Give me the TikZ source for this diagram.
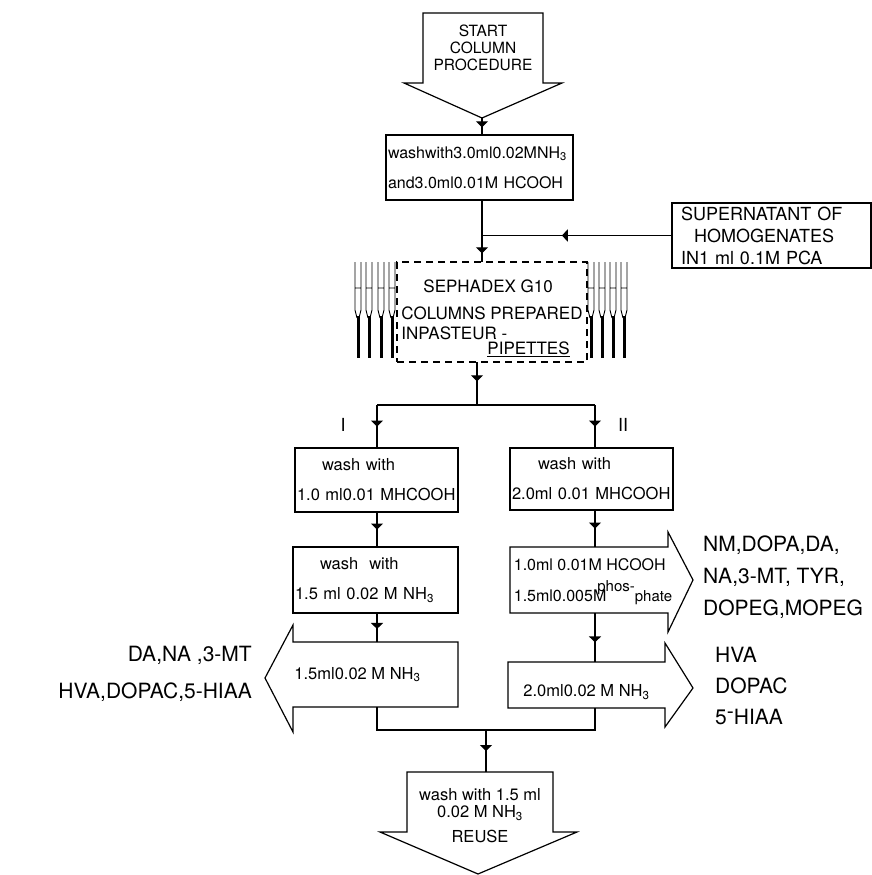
\documentclass[tikz,border=0pt]{standalone}
\usepackage{fontspec}
\setmainfont{TeX Gyre Heros}
\usetikzlibrary{arrows.meta,decorations.markings}

\newcommand\boxfont{\fontsize{16}{30}\selectfont}
\newcommand\colfont{\fontsize{16.5}{30}\selectfont}

\tikzset{
  flowline/.style={line width=1.2pt},
  tickat/.style={flowline,
    decoration={markings, mark=at position #1 with {\arrow{Triangle[width=12pt,length=6pt]}}},
    postaction={decorate}},
  stepbox/.style={draw, line width=1.2pt, outer sep=0pt, inner sep=2pt},
  bodybox/.style={outer sep=0pt, inner sep=2pt},
  dashbox/.style={draw, line width=1.2pt, dash pattern=on 7pt off 5pt, outer sep=0pt},
  outline/.style={line width=1.2pt, line join=miter},
  outtext/.style={font=\fontsize{21}{#1}\selectfont, inner sep=0pt},
}

\begin{document}
\begin{tikzpicture}[x=1pt,y=-1pt]
  \useasboundingbox (0,0) rectangle (872,875);

  % start arrow
  \node[bodybox, minimum width=120, minimum height=70, align=center,
        font=\fontsize{15.5}{17}\selectfont] (start) at (483,48) {START\\COLUMN\\PROCEDURE};
  \draw[outline] (start.south west) -- (start.north west) -- (start.north east)
    -- (start.south east) -- ++(19,0) -- ++(-80,35) coordinate (starttip) -- ++(-78,-35) -- cycle;

  % washing and sample input
  \node[stepbox, minimum height=65, text width=183, align=left, font=\boxfont] (wash) at (479.5,167.5)
    {washwith3.0ml0.02MNH\textsubscript{3}\\and3.0ml0.01M HCOOH};
  \node[stepbox, minimum height=65, text width=181, inner xsep=9pt, align=left,
        font=\fontsize{18}{22}\selectfont] (super) at (771.5,235.5)
    {SUPERNATANT OF\\\hspace*{13pt}HOMOGENATES\\IN1 ml 0.1M PCA};

  % column in pasteur pipettes
  \node[dashbox, minimum width=190, minimum height=100,
        label={[align=left, font=\fontsize{17}{20}\selectfont, yshift=-6pt]center:%
          \hspace*{22pt}SEPHADEX G10\\[7pt]COLUMNS PREPARED\\INPASTEUR -\\[-5pt]\hspace*{86pt}\underline{PIPETTES}}]
    (sephadex) at (492,312) {};
  \foreach \x in {358,369,381,392,591,602,613,624} {
    \draw[line width=0.9pt] (\x-3,262) -- (\x-3,310) -- (\x-1,318)
                            (\x+3,262) -- (\x+3,310) -- (\x+1,318)
                            (\x-3,288) -- (\x+3,288);
    \draw[line width=3pt] (\x,316) -- (\x,358);
  }

  % two elution lines
  \node[font=\fontsize{18}{18}\selectfont] (one) at (343,425) {I};
  \node[font=\fontsize{18}{18}\selectfont] (two) at (623,425) {II};

  \node[stepbox, minimum height=64, text width=159, align=left, font=\colfont] (lw1) at (376.5,480)
    {\hspace*{25pt}wash with\\1.0 ml0.01 MHCOOH};
  \node[stepbox, minimum height=66, text width=161, align=left, font=\colfont] (lw2) at (375.5,580)
    {\hspace*{25pt}wash\ \ with\\1.5 ml\ 0.02 M\ NH\textsubscript{3}};
  \node[stepbox, minimum height=62, text width=159, align=left, font=\colfont] (rw1) at (591.5,479)
    {\hspace*{26pt}wash with\\2.0ml 0.01 MHCOOH};

  % eluate arrows
  \node[bodybox, minimum width=165, minimum height=65,
        label={[font=\colfont, xshift=-18pt]center:1.5ml0.02 M NH\textsubscript{3}}] (larrow) at (375.5,674.5) {};
  \draw[outline] (larrow.north east) -- (larrow.north west) -- ++(0,-17) -- ++(-28,53)
    -- ++(28,54) -- (larrow.south west) -- (larrow.south east) -- cycle;

  \node[bodybox, minimum width=158, minimum height=66,
        label={[font=\fontsize{16}{31}\selectfont, align=left, xshift=4pt, yshift=-2pt]center:%
          1.0ml 0.01M HCOOH\\1.5ml0.005M\hspace{-9pt}\raisebox{10pt}{\fontsize{15}{15}\selectfont phos-}{\fontsize{15}{15}\selectfont phate}}]
    (ra) at (589,580) {};
  \draw[outline] (ra.north west) -- (ra.north east) -- ++(0,-15) -- ++(25,48)
    -- ++(-25,52) -- (ra.south east) -- (ra.south west) -- cycle;

  \node[bodybox, minimum width=157, minimum height=46,
        label={[font=\colfont, yshift=-7pt]center:2.0ml0.02 M NH\textsubscript{3}}] (rb) at (586.5,685) {};
  \draw[outline] (rb.north west) -- (rb.north east) -- ++(0,-19) -- ++(28,45)
    -- ++(-28,39) -- (rb.south east) -- (rb.south west) -- cycle;

  % reuse arrow
  \node[bodybox, minimum width=146, minimum height=60,
        label={[font=\fontsize{16.5}{17}\selectfont, align=center, yshift=-14pt]center:%
          wash with 1.5 ml\\0.02 M NH\textsubscript{3}\\[8pt]REUSE}] (reuse) at (480,802) {};
  \draw[outline] (reuse.south west) -- (reuse.north west) -- (reuse.north east)
    -- (reuse.south east) -- ++(24,0) -- ++(-99,42) -- ++(-98,-42) -- cycle;

  % eluted compounds
  \node[outtext=37, anchor=east, align=right] (leftout) at (252,674)
    {DA,NA ,3-MT\\HVA,DOPAC,5-HIAA};
  \node[outtext=32, anchor=west, align=left] (rightout) at (703,577)
    {NM,DOPA,DA,\\NA,3-MT, TYR,\\DOPEG,MOPEG};
  \node[outtext=31, anchor=west, align=left] (acidout) at (715,686)
    {HVA\\DOPAC\\5\raisebox{.3em}{-}HIAA};

  % connectors
  \coordinate (split) at (477,405);
  \coordinate (lspine) at (377,405);
  \coordinate (rspine) at (595,405);
  \coordinate (merge) at (486,730);
  \draw[tickat=.55] (starttip) -- (starttip |- wash.north);
  \draw[tickat=.86] (starttip |- wash.south) -- (starttip |- sephadex.north);
  \draw[tickat=.58] (super.west) -- (super.west -| starttip);
  \draw[tickat=.45] (split |- sephadex.south) -- (split);
  \draw[flowline] (lspine) -- (rspine);
  \draw[tickat=.5] (lspine) -- (lspine |- lw1.north);
  \draw[tickat=.5] (rspine) -- (rspine |- rw1.north);
  \draw[tickat=.5] (lspine |- lw1.south) -- (lspine |- lw2.north);
  \draw[tickat=.5] (rspine |- rw1.south) -- (rspine |- ra.north);
  \draw[tickat=.55] (lspine |- lw2.south) -- (lspine |- larrow.north);
  \draw[tickat=.6] (rspine |- ra.south) -- (rspine |- rb.north);
  \draw[flowline] (lspine |- larrow.south) -- (lspine |- merge) -- (rspine |- merge) -- (rspine |- rb.south);
  \draw[tickat=.5] (merge) -- (merge |- reuse.north);
\end{tikzpicture}
\end{document}
